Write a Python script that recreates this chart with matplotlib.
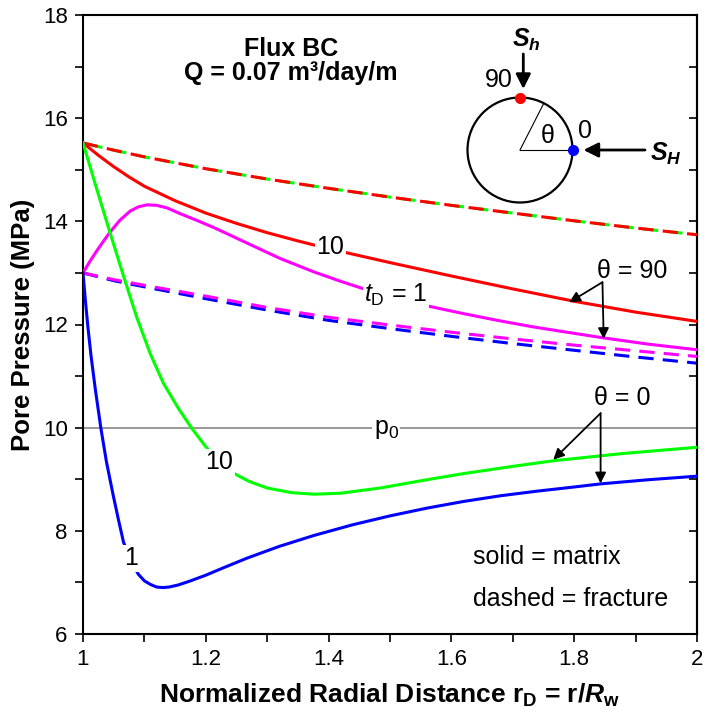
import numpy as np
import matplotlib
matplotlib.use("Agg")
import matplotlib.pyplot as plt
from matplotlib.patches import Circle
from matplotlib.ticker import MultipleLocator

plt.rcParams['font.family'] = ['Liberation Sans', 'DejaVu Sans']
plt.rcParams['mathtext.fontset'] = 'custom'
plt.rcParams['mathtext.rm'] = 'Liberation Sans'
plt.rcParams['mathtext.it'] = 'Liberation Sans:italic'
plt.rcParams['mathtext.bf'] = 'Liberation Sans:bold'
plt.rcParams['mathtext.bfit'] = 'Liberation Sans:italic:bold'

# fracture curves (dashed), same x grid
x_frac = [1.0, 1.05, 1.1, 1.2, 1.3, 1.4, 1.5, 1.6, 1.7, 1.8, 1.9, 2.0]
frac_t10 = [15.52, 15.38, 15.25, 15.02, 14.82, 14.64, 14.47, 14.31, 14.16, 14.01, 13.87, 13.74]
frac_t1_90 = [13.0, 12.87, 12.76, 12.55, 12.33, 12.14, 11.99, 11.85, 11.72, 11.60, 11.49, 11.38]
frac_t1_0 = [13.0, 12.85, 12.73, 12.50, 12.28, 12.08, 11.92, 11.77, 11.63, 11.50, 11.37, 11.25]

# matrix curves (solid)
x_m90_t10 = [1.0, 1.025, 1.05, 1.075, 1.1, 1.15, 1.2, 1.25, 1.3, 1.35, 1.4, 1.5, 1.6, 1.7,
             1.8, 1.9, 2.0]
m90_t10 = [15.52, 15.28, 15.06, 14.86, 14.68, 14.40, 14.16, 13.96, 13.78, 13.62, 13.47, 13.20,
           12.94, 12.69, 12.45, 12.24, 12.06]

x_m90_t1 = [1.0, 1.011, 1.022, 1.033, 1.044, 1.06, 1.077, 1.09, 1.104, 1.12, 1.137, 1.158,
            1.185, 1.213, 1.267, 1.321, 1.376, 1.419, 1.46, 1.5, 1.561, 1.62, 1.675, 1.73,
            1.783, 1.848, 1.92, 2.0]
m90_t1 = [13.0, 13.22, 13.42, 13.61, 13.79, 14.02, 14.20, 14.28, 14.32, 14.31, 14.26, 14.15,
          14.02, 13.88, 13.58, 13.28, 13.02, 12.84, 12.68, 12.54, 12.36, 12.21, 12.08, 11.96,
          11.86, 11.74, 11.62, 11.51]

x_m0_t10 = [1.0, 1.022, 1.044, 1.066, 1.0875, 1.11, 1.131, 1.155, 1.177, 1.2, 1.222, 1.245,
            1.27, 1.3, 1.34, 1.376, 1.42, 1.484, 1.55, 1.62, 1.7, 1.767, 1.88, 2.0]
m0_t10 = [15.52, 14.64, 13.78, 12.94, 12.14, 11.42, 10.86, 10.38, 9.99, 9.63, 9.35, 9.12,
          8.96, 8.83, 8.74, 8.71, 8.73, 8.83, 8.97, 9.11, 9.25, 9.36, 9.50, 9.62]

x_m0_t1 = [1.0, 1.004, 1.008, 1.013, 1.02, 1.029, 1.038, 1.049, 1.058, 1.066, 1.078, 1.09,
           1.1, 1.11, 1.12, 1.13, 1.14, 1.155, 1.175, 1.2, 1.23, 1.267, 1.32, 1.376, 1.44,
           1.5, 1.56, 1.62, 1.68, 1.74, 1.8, 1.843, 1.92, 2.0]
m0_t1 = [13.0, 12.45, 11.95, 11.4, 10.75, 10.0, 9.35, 8.70, 8.20, 7.78, 7.42, 7.16,
         7.03, 6.96, 6.91, 6.90, 6.91, 6.95, 7.03, 7.14, 7.29, 7.47, 7.70, 7.91, 8.12,
         8.29, 8.44, 8.57, 8.68, 8.77, 8.85, 8.91, 8.99, 9.06]

p0 = 10.0

fig = plt.figure(figsize=(7.04, 7.17), dpi=100)
ax = fig.add_axes([83/704, 1-634/717, 614/704, 619/717])

lw = 2.2
ax.axhline(p0, color='#999999', lw=1.4, zorder=1)
ax.plot(x_frac, frac_t10, color='#00ff00', lw=lw, linestyle=(6.5, (5, 3)), zorder=2)
ax.plot(x_frac, frac_t10, color='#ff0000', lw=lw, linestyle=(0, (5, 3)), zorder=3)
ax.plot(x_frac, frac_t1_0, color='#0000ff', lw=lw, linestyle=(0, (5, 3)), zorder=2)
ax.plot(x_frac, frac_t1_90, color='#ff00ff', lw=lw, linestyle=(0, (5, 3)), zorder=3)
ax.plot(x_m90_t10, m90_t10, color='#ff0000', lw=lw, zorder=3)
ax.plot(x_m90_t1, m90_t1, color='#ff00ff', lw=lw, zorder=3)
ax.plot(x_m0_t10, m0_t10, color='#00ff00', lw=lw, zorder=3)
ax.plot(x_m0_t1, m0_t1, color='#0000ff', lw=lw, zorder=3)

ax.set_xlim(1, 2)
ax.set_ylim(6, 18)
ax.xaxis.set_minor_locator(MultipleLocator(0.1))
ax.yaxis.set_major_locator(MultipleLocator(2))
ax.yaxis.set_minor_locator(MultipleLocator(1))
ax.set_xticks([1, 1.2, 1.4, 1.6, 1.8, 2])
ax.set_xticklabels(['1', '1.2', '1.4', '1.6', '1.8', '2'])
ax.tick_params(which='both', direction='out', length=6, width=1.2, labelsize=16,
               top=False, right=False, pad=5)
for s in ax.spines.values():
    s.set_linewidth(1.5)

sec = ax.secondary_yaxis('right')
sec.yaxis.set_major_locator(MultipleLocator(1))
sec.tick_params(which='both', direction='in', length=6, width=1.2, labelright=False)
sec.spines['right'].set_linewidth(1.5)

ax.set_xlabel(r'Normalized Radial Distance r$_{\mathbf{D}}$ = r/$\mathbfit{R}_{\mathbf{w}}$',
              fontsize=19, fontweight='bold', labelpad=8)
ax.set_ylabel('Pore Pressure (MPa)', fontsize=18.5, fontweight='bold', labelpad=6)

fs = 18
wb = dict(facecolor='white', edgecolor='none', pad=1)
ax.text(1.4025, 13.50, '10', fontsize=fs, ha='center', va='center', bbox=wb, zorder=5)
ax.text(1.51, 12.57, r'$\mathit{t}_\mathregular{D}$ = 1', fontsize=fs, ha='center', va='center',
        bbox=wb, zorder=5)
ax.text(1.222, 9.33, '10', fontsize=fs, ha='center', va='center', bbox=wb, zorder=5)
ax.text(1.079, 7.47, '1', fontsize=fs, ha='center', va='center', bbox=wb, zorder=5)
ax.text(1.494, 9.98, r'p$_\mathregular{0}$', fontsize=fs, ha='center', va='center', bbox=wb, zorder=5)

ax.text(1.339, 17.35, 'Flux BC', fontsize=fs, fontweight='bold', ha='center', va='center')
ax.text(1.339, 16.88, 'Q = 0.07 m³/day/m', fontsize=fs, fontweight='bold',
        ha='center', va='center')

ax.text(1.635, 7.50, 'solid = matrix', fontsize=fs, ha='left', va='center')
ax.text(1.635, 6.68, 'dashed = fracture', fontsize=fs, ha='left', va='center')

ap = dict(arrowstyle='-|>', color='black', lw=1.3, mutation_scale=16, shrinkA=0, shrinkB=0)
ax.text(1.894, 13.04, 'θ = 90', fontsize=fs, ha='center', va='center')
ax.annotate('', xy=(1.792, 12.43), xytext=(1.846, 12.82), arrowprops=ap)
ax.annotate('', xy=(1.848, 11.72), xytext=(1.846, 12.82), arrowprops=ap)
ax.text(1.879, 10.57, 'θ = 0', fontsize=fs, ha='center', va='center')
ax.annotate('', xy=(1.766, 9.38), xytext=(1.843, 10.28), arrowprops=ap)
ax.annotate('', xy=(1.843, 8.92), xytext=(1.843, 10.28), arrowprops=ap)

# borehole sketch, in pixel coordinates
ins = fig.add_axes([440/704, 1-220/717, 260/704, 200/717])
ins.set_xlim(440, 700)
ins.set_ylim(220, 20)
ins.axis('off')
ins.patch.set_alpha(0)
cx, cy, r = 520, 150, 52.5
ins.add_patch(Circle((cx, cy), r, fill=False, lw=1.6, color='black'))
ang = np.deg2rad(63)
ins.plot([cx, cx + r], [cy, cy], color='black', lw=0.8)
ins.plot([cx, cx + r*np.cos(ang)], [cy, cy - r*np.sin(ang)], color='black', lw=0.8)
ins.plot(cx, cy - r, 'o', color='#ff0000', ms=7, zorder=5)
ins.plot(cx + r, cy, 'o', color='#0000ff', ms=7, zorder=5)
ins.text(547.5, 136, 'θ', fontsize=fs, ha='center', va='center')
ins.text(585, 131.5, '0', fontsize=fs, ha='center', va='center')
ins.text(499, 80, '90', fontsize=fs, ha='center', va='center')
ap2 = dict(arrowstyle='-|>', color='black', lw=2, mutation_scale=22, shrinkA=0, shrinkB=0)
ins.annotate('', xy=(523.3, 89), xytext=(523.3, 54), arrowprops=ap2)
ins.annotate('', xy=(583.5, 150), xytext=(645, 150), arrowprops=ap2)
ins.text(526, 40, r'$\mathbfit{S}_\mathbfit{h}$', fontsize=fs, ha='center', va='center')
ins.text(666, 154, r'$\mathbfit{S}_\mathbfit{H}$', fontsize=fs, ha='center', va='center')

fig.savefig('out.png', dpi=100)
